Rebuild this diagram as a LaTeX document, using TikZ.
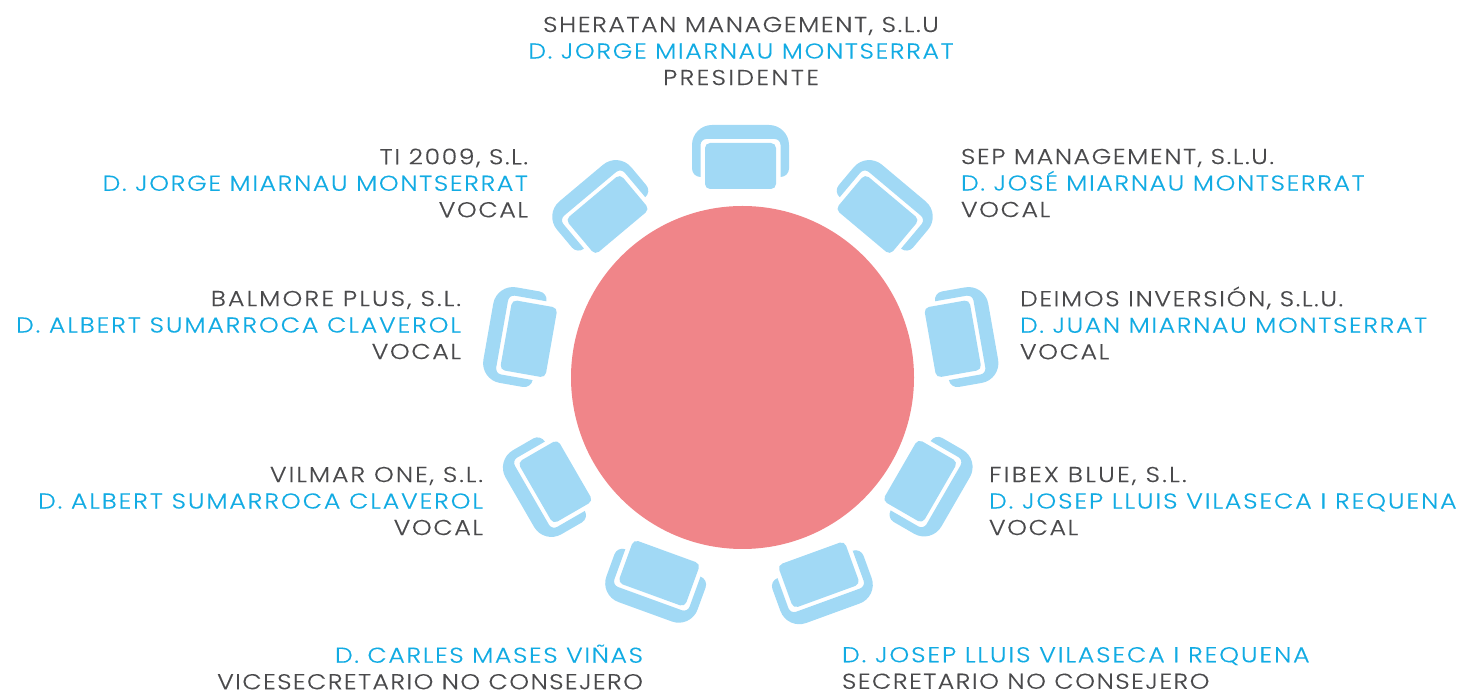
\documentclass[tikz,border=0pt]{standalone}
\usepackage{fontspec}
\setmainfont{Poppins Light}[FakeStretch=1.17,LetterSpace=7.5,FakeBold=0.25]
\definecolor{chairblue}{HTML}{A1D9F5}
\definecolor{tablered}{HTML}{F08589}
\definecolor{inkgray}{HTML}{4A4A4C}
\definecolor{namecyan}{HTML}{12ABE3}
\newcommand{\cn}[1]{{\color{namecyan}#1}}
\newcommand{\ls}[2]{{\addfontfeature{LetterSpace=#1}#2}}
\tikzset{
  lbl/.style={inner sep=0pt,outer sep=0pt,text=inkgray,font=\fontsize{21.5}{26.5}\selectfont},
  lblR/.style={lbl,align=right,anchor=east},
  lblL/.style={lbl,align=left,anchor=west},
  lblC/.style={lbl,align=center,anchor=center},
  pics/chair/.style={code={
    \fill[chairblue,rounded corners=5pt] (-35.5,188.5) rectangle (35.5,234.5);
    \fill[chairblue] (-40,200.5) -- (-40,232.5) arc[start angle=180,end angle=90,radius=6]
      -- (34,238.5) arc[start angle=90,end angle=0,radius=6]
      -- (40,200.5) arc[start angle=-90,end angle=0,radius=8.5]
      -- (48.5,232.5) arc[start angle=0,end angle=90,radius=20]
      -- (-28.5,252.5) arc[start angle=90,end angle=180,radius=20]
      -- (-48.5,209) arc[start angle=180,end angle=270,radius=8.5] -- cycle;
  }}
}
\begin{document}
\begin{tikzpicture}[x=1pt,y=1pt]
\useasboundingbox (0,0) rectangle (1459,693);
\node[circle,fill=tablered,minimum size=343pt,inner sep=0pt] (mesa) at (742.5,315.5) {};
\foreach \a/\dx/\dy in {0/-2/0,40/1/1,80/-5.5/2,120/-4/1.5,160/-11/3,200/4/1.5,240/-5.5/2,280/2/2,320/-1/1}
  \pic[rotate=\a] at ([shift={(\dx,\dy)}]mesa.center) {chair};
\node[lblC] (n1) at (741,642) {SHERATAN MANAGEMENT, S.L.U\\\cn{D. JORGE MIARNAU MONTSERRAT}\\\ls{10.7}{PRESIDENTE}};
\node[lblR] (n2) at (528,510) {TI 2009, S.L.\\\cn{D. JORGE MIARNAU MONTSERRAT}\\VOCAL};
\node[lblL] (n3) at (961,510) {SEP MANAGEMENT, S.L.U.\\\cn{D. JOSÉ MIARNAU MONTSERRAT}\\VOCAL};
\node[lblR] (n4) at (461,368) {\ls{9.8}{BALMORE PLUS, S.L.}\\\cn{\ls{8.7}{D. ALBERT SUMARROCA CLAVEROL}}\\VOCAL};
\node[lblL] (n5) at (1020,370) {DEIMOS INVERSIÓN, S.L.U.\\\cn{D. JUAN MIARNAU MONTSERRAT}\\VOCAL};
\node[lblR] (n6) at (483,192) {\ls{9.2}{VILMAR ONE, S.L.}\\\cn{\ls{8.7}{D. ALBERT SUMARROCA CLAVEROL}}\\VOCAL};
\node[lblL] (n7) at (989,192) {\ls{10.7}{FIBEX BLUE, S.L.}\\\cn{\ls{8.8}{D. JOSEP LLUIS VILASECA I REQUENA}}\\VOCAL};
\node[lblR] (n8) at (643,26) {\cn{D. CARLES MASES VIÑAS}\\\ls{6.5}{VICESECRETARIO NO CONSEJERO}};
\node[lblL] (n9) at (842,25) {\cn{\ls{8.8}{D. JOSEP LLUIS VILASECA I REQUENA}}\\\ls{6.9}{SECRETARIO NO CONSEJERO}};
\end{tikzpicture}
\end{document}
